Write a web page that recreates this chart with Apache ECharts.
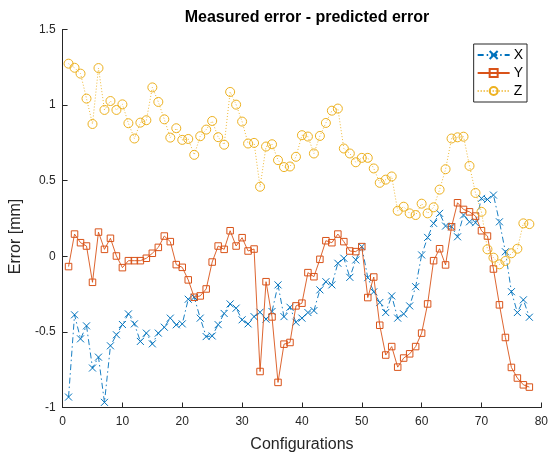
<!DOCTYPE html>
<html>
<head>
<meta charset="utf-8">
<script src="https://cdn.jsdelivr.net/npm/echarts@6/dist/echarts.min.js"></script>
<style>
  html, body { margin: 0; padding: 0; background: #fff; }
  #chart { width: 551px; height: 459px; }
</style>
</head>
<body>
<div id="chart"></div>
<script>
// Configuration index for each measurement
const configurations = [
  1, 2, 3, 4, 5, 6, 7, 8, 9, 10, 11, 12, 13, 14, 15, 16, 17, 18, 19, 20,
  21, 22, 23, 24, 25, 26, 27, 28, 29, 30, 31, 32, 33, 34, 35, 36, 37, 38, 39, 40,
  41, 42, 43, 44, 45, 46, 47, 48, 49, 50, 51, 52, 53, 54, 55, 56, 57, 58, 59, 60,
  61, 62, 63, 64, 65, 66, 67, 68, 69, 70, 71, 72, 73, 74, 75, 76, 77, 78
];

// Measured minus predicted error per axis [mm]
const errX = [
  -0.931, -0.387, -0.546, -0.460, -0.739, -0.667, -0.966, -0.592, -0.519, -0.451,
  -0.381, -0.447, -0.563, -0.508, -0.579, -0.508, -0.469, -0.409, -0.453, -0.447,
  -0.284, -0.271, -0.409, -0.531, -0.527, -0.452, -0.378, -0.315, -0.343, -0.420,
  -0.447, -0.399, -0.370, -0.416, -0.365, -0.189, -0.399, -0.337, -0.436, -0.409,
  -0.372, -0.359, -0.222, -0.168, -0.189, -0.046, -0.013, -0.139, -0.024, 0.064,
  -0.141, -0.235, -0.306, -0.372, -0.262, -0.409, -0.381, -0.328, -0.201, 0.009,
  0.125, 0.218, 0.284, 0.200, 0.195, 0.129, 0.273, 0.228, 0.222, 0.383,
  0.376, 0.405, 0.228, 0.030, -0.234, -0.372, -0.288, -0.403
];

const errY = [
  -0.068, 0.147, 0.090, 0.068, -0.172, 0.160, 0.046, 0.119, 0.002, -0.075,
  -0.029, -0.029, -0.029, -0.013, 0.020, 0.059, 0.134, 0.097, -0.055, -0.073,
  -0.156, -0.271, -0.262, -0.216, -0.038, 0.068, 0.046, 0.169, 0.068, 0.123,
  0.035, 0.048, -0.762, -0.168, -0.401, -0.834, -0.581, -0.570, -0.328, -0.310,
  -0.108, -0.135, -0.020, 0.103, 0.090, 0.147, 0.097, 0.035, 0.031, 0.064,
  -0.273, -0.137, -0.456, -0.653, -0.597, -0.733, -0.673, -0.645, -0.597, -0.508,
  -0.315, -0.029, 0.050, -0.057, 0.195, 0.354, 0.310, 0.294, 0.266, 0.169,
  0.134, -0.084, -0.321, -0.537, -0.735, -0.805, -0.850, -0.865
];

const errZ = [
  1.274, 1.247, 1.208, 1.043, 0.875, 1.245, 0.968, 1.027, 0.968, 1.005,
  0.880, 0.779, 0.884, 0.900, 1.117, 1.021, 0.906, 0.785, 0.847, 0.770,
  0.776, 0.671, 0.794, 0.838, 0.895, 0.788, 0.738, 1.087, 1.003, 0.891,
  0.746, 0.750, 0.460, 0.726, 0.741, 0.636, 0.590, 0.594, 0.658, 0.801,
  0.792, 0.680, 0.796, 0.882, 0.963, 0.977, 0.713, 0.680, 0.622, 0.651,
  0.651, 0.581, 0.486, 0.507, 0.528, 0.301, 0.328, 0.284, 0.273, 0.348,
  0.284, 0.324, 0.441, 0.576, 0.779, 0.787, 0.791, 0.598, 0.419, 0.294,
  0.046, -0.009, -0.053, -0.031, 0.020, 0.050, 0.218, 0.213
];

const seriesNames = ['X', 'Y', 'Z'];
const xTicks = { min: 0, max: 80, step: 10 };
const yTicks = { min: -1, max: 1.5, step: 0.5 };

const FONT = '"Liberation Sans", Arial, Helvetica, sans-serif';
const INK = '#262626';
const BLUE = '#0072BD';
const ORANGE = '#D95319';
const YELLOW = '#EDB120';

function pairs(ys) {
  return ys.map((v, i) => [configurations[i], v]);
}

const chart = echarts.init(document.getElementById('chart'), null, { renderer: 'canvas' });

const axisCommon = {
  axisLine: { show: true, onZero: false, lineStyle: { color: INK, width: 1 } },
  axisTick: { show: true, inside: true, length: 5, lineStyle: { color: INK } },
  axisLabel: { color: INK, fontFamily: FONT, fontSize: 12 },
  splitLine: { show: false },
  nameLocation: 'middle',
  nameTextStyle: { color: INK, fontFamily: FONT, fontSize: 16 }
};

chart.setOption({
  animation: false,
  backgroundColor: '#fff',
  title: {
    text: 'Measured error - predicted error',
    left: 302,
    top: 5,
    textAlign: 'center',
    textStyle: { fontFamily: FONT, fontSize: 16, fontWeight: 'bold', color: '#000' }
  },
  grid: { left: 61.5, right: 9.5, top: 29.5, bottom: 51.5 },
  legend: {
    data: seriesNames,
    orient: 'vertical',
    right: 24,
    top: 44,
    itemWidth: 32,
    itemHeight: 10,
    itemGap: 2,
    padding: [3, 4, 3, 3],
    borderColor: INK,
    borderWidth: 1,
    backgroundColor: '#fff',
    textStyle: { fontFamily: FONT, fontSize: 14, lineHeight: 16, color: '#000', padding: [0, 0, 0, -1] }
  },
  xAxis: Object.assign({}, axisCommon, {
    type: 'value',
    min: xTicks.min,
    max: xTicks.max,
    interval: xTicks.step,
    name: 'Configurations',
    nameGap: 29,
    axisLabel: Object.assign({}, axisCommon.axisLabel, { margin: 8 })
  }),
  yAxis: Object.assign({}, axisCommon, {
    type: 'value',
    min: yTicks.min,
    max: yTicks.max,
    interval: yTicks.step,
    name: 'Error [mm]',
    nameGap: 33,
    nameTextStyle: Object.assign({}, axisCommon.nameTextStyle, { padding: [0, 36, 0, 0] }),
    axisLabel: Object.assign({}, axisCommon.axisLabel, { margin: 7 })
  }),
  series: [
    {
      name: 'X',
      type: 'line',
      data: pairs(errX),
      symbol: 'path://M0,0L10,10M10,0L0,10',
      symbolSize: 7,
      symbolKeepAspect: true,
      showAllSymbol: true,
      lineStyle: { color: BLUE, width: 0.9, type: [6, 3, 1.5, 3] },
      itemStyle: { color: 'rgba(0,0,0,0)', borderColor: BLUE, borderWidth: 1 },
      emphasis: { disabled: true },
      z: 2
    },
    {
      name: 'Y',
      type: 'line',
      data: pairs(errY),
      symbol: 'rect',
      symbolSize: 6.5,
      showAllSymbol: true,
      lineStyle: { color: ORANGE, width: 0.9, type: 'solid' },
      itemStyle: { color: 'rgba(0,0,0,0)', borderColor: ORANGE, borderWidth: 1 },
      emphasis: { disabled: true },
      z: 3
    },
    {
      name: 'Z',
      type: 'line',
      data: pairs(errZ),
      symbol: 'circle',
      symbolSize: 9,
      showAllSymbol: true,
      lineStyle: { color: YELLOW, width: 0.9, type: [1, 2] },
      itemStyle: { color: 'rgba(0,0,0,0)', borderColor: YELLOW, borderWidth: 1 },
      emphasis: { disabled: true },
      z: 4
    }
  ]
});
</script>
</body>
</html>
